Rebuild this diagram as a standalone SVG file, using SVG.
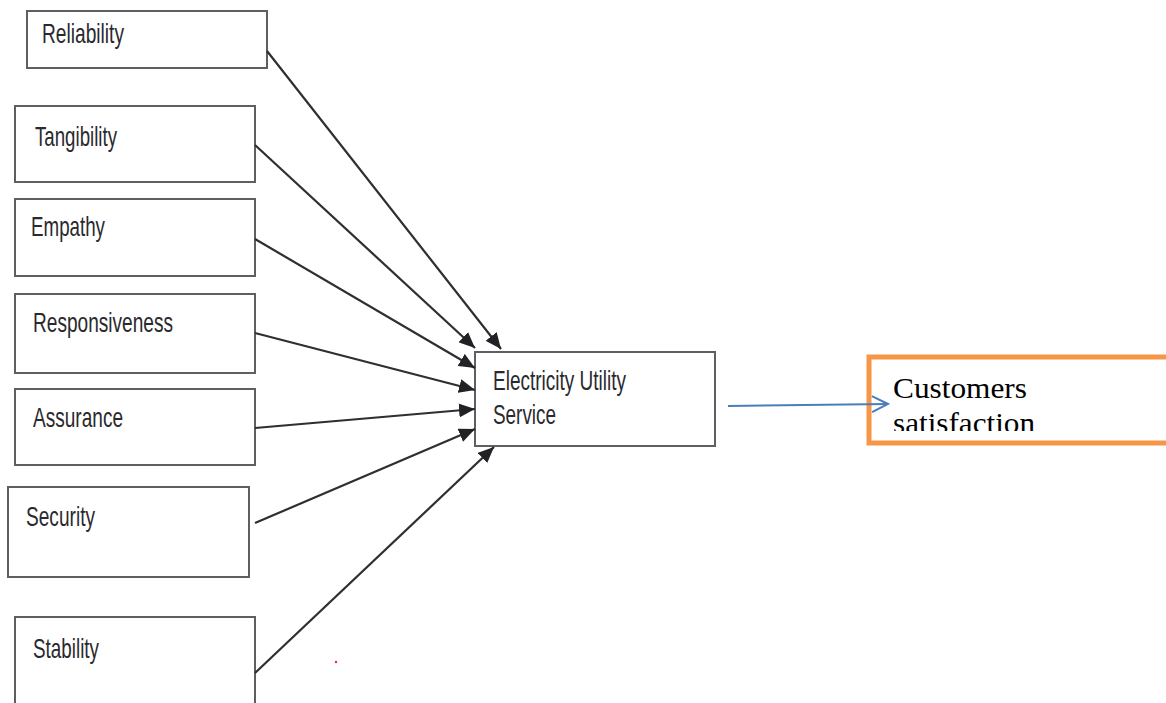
<svg xmlns="http://www.w3.org/2000/svg" width="1166" height="703" viewBox="0 0 1166 703">
<style>
.box{fill:#fff;stroke:#5f5f62;stroke-width:2}
.lbl{font-family:"Liberation Sans Narrow","Liberation Sans",Arial,sans-serif;font-size:28px;fill:#2a2a2e}
.con{stroke:#2e2e33;stroke-width:2.2;fill:none}
.serif{font-family:"Liberation Serif","Times New Roman",serif;font-size:30px;fill:#000}
</style>
<defs>
<marker id="ah" markerUnits="userSpaceOnUse" markerWidth="18" markerHeight="14" refX="16" refY="7" orient="auto">
<path d="M0,0 L16,7 L0,14 Z" fill="#222226"/>
</marker>
<marker id="bh" markerUnits="userSpaceOnUse" markerWidth="20" markerHeight="20" refX="18" refY="10" orient="auto">
<path d="M2,2 L18,10 L2,18" fill="none" stroke="#4a7ebb" stroke-width="2"/>
</marker>
<clipPath id="cc"><rect x="870" y="358" width="296" height="73"/></clipPath>
</defs>
<rect width="1166" height="703" fill="#fff"/>
<g id="reliability"><rect class="box" x="27" y="11" width="240" height="57"/><text class="lbl" x="42" y="43" textLength="82" lengthAdjust="spacingAndGlyphs">Reliability</text></g>
<g id="tangibility"><rect class="box" x="15" y="106" width="240" height="76"/><text class="lbl" x="35" y="146" textLength="82" lengthAdjust="spacingAndGlyphs">Tangibility</text></g>
<g id="empathy"><rect class="box" x="15" y="199" width="240" height="77"/><text class="lbl" x="31" y="236" textLength="74" lengthAdjust="spacingAndGlyphs">Empathy</text></g>
<g id="responsiveness"><rect class="box" x="15" y="294" width="240" height="79"/><text class="lbl" x="33" y="332" textLength="140" lengthAdjust="spacingAndGlyphs">Responsiveness</text></g>
<g id="assurance"><rect class="box" x="15" y="389" width="240" height="76"/><text class="lbl" x="33" y="427" textLength="90" lengthAdjust="spacingAndGlyphs">Assurance</text></g>
<g id="security"><rect class="box" x="8" y="487" width="241" height="90"/><text class="lbl" x="26" y="526" textLength="69" lengthAdjust="spacingAndGlyphs">Security</text></g>
<g id="stability"><rect class="box" x="15" y="617" width="240" height="100"/><text class="lbl" x="33" y="658" textLength="66" lengthAdjust="spacingAndGlyphs">Stability</text></g>
<g id="electricity"><rect class="box" x="475" y="352" width="240" height="94"/><text class="lbl" x="493" y="390" textLength="133" lengthAdjust="spacingAndGlyphs">Electricity Utility</text><text class="lbl" x="493" y="424" textLength="63" lengthAdjust="spacingAndGlyphs">Service</text></g>
<g id="customers"><rect x="869" y="357" width="310" height="86" fill="#fff" stroke="#f79646" stroke-width="5"/><g clip-path="url(#cc)"><text class="serif" x="893" y="398" textLength="134" lengthAdjust="spacingAndGlyphs">Customers</text><text class="serif" x="893" y="433" textLength="142" lengthAdjust="spacingAndGlyphs">satisfaction</text></g></g>
<g id="connectors">
<line class="con" x1="267" y1="51" x2="501" y2="349" marker-end="url(#ah)"/>
<line class="con" x1="255" y1="145" x2="475" y2="348" marker-end="url(#ah)"/>
<line class="con" x1="255" y1="239" x2="475" y2="368" marker-end="url(#ah)"/>
<line class="con" x1="255" y1="333" x2="475" y2="390" marker-end="url(#ah)"/>
<line class="con" x1="255" y1="428" x2="475" y2="409" marker-end="url(#ah)"/>
<line class="con" x1="255" y1="523" x2="475" y2="429" marker-end="url(#ah)"/>
<line class="con" x1="255" y1="673" x2="494" y2="447" marker-end="url(#ah)"/>
<line x1="728" y1="406" x2="888" y2="404" stroke="#4a7ebb" stroke-width="2" marker-end="url(#bh)"/>
</g>
<circle cx="336" cy="662" r="1.2" fill="#f22"/>
</svg>
